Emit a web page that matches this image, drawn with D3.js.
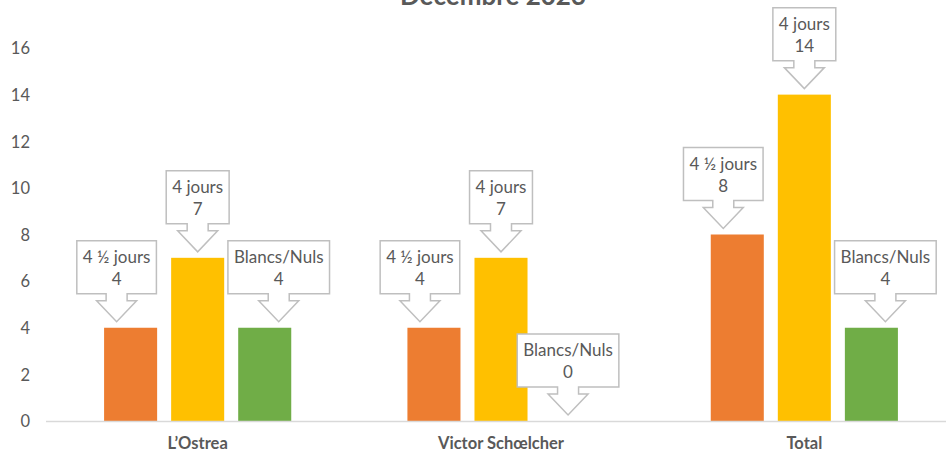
<!DOCTYPE html>
<html>
<head>
<meta charset="utf-8">
<script src="https://cdn.jsdelivr.net/npm/d3@7"></script>
<style>
  html, body { margin: 0; padding: 0; background: #fff; }
  svg { display: block; }
</style>
</head>
<body>
<svg id="chart" width="946" height="452"></svg>
<script>
// ---- data ----
const title = "Décembre 2023";
const categories = ["L’Ostrea", "Victor Schœlcher", "Total"];
const seriesNames = ["4 ½ jours", "4 jours", "Blancs/Nuls"];
const seriesColors = ["#ED7D31", "#FFC000", "#70AD47"];
const values45 = [4, 4, 8];
const values4 = [7, 7, 14];
const valuesBN = [4, 0, 4];
const yTicks = [0, 2, 4, 6, 8, 10, 12, 14, 16];

const seriesValues = [values45, values4, valuesBN];

// ---- layout ----
const W = 946, H = 452;
const plot = { left: 46, right: 956, top: 48, bottom: 421 };
const font = "Lato, 'Open Sans', sans-serif";
const textColor = "#595959";

const svg = d3.select("#chart");

const y = d3.scaleLinear().domain([0, 16]).range([plot.bottom, plot.top]);
const x0 = d3.scaleBand().domain(categories).range([plot.left, plot.right])
  .paddingInner(0.383).paddingOuter(0.1915);
const x1 = d3.scaleBand().domain(seriesNames).range([0, x0.bandwidth()])
  .paddingInner(0.209).paddingOuter(0);

// title
svg.append("text")
  .attr("x", 493).attr("y", 5)
  .attr("text-anchor", "middle")
  .attr("font-family", font).attr("font-weight", "bold")
  .attr("font-size", 26).attr("fill", textColor)
  .text(title);

// y axis labels
const yAxis = d3.axisLeft(y).tickValues(yTicks).tickSize(0).tickPadding(0);
const yg = svg.append("g").attr("transform", "translate(30,0)").call(yAxis);
yg.select(".domain").remove();
yg.selectAll("text")
  .attr("font-family", font).attr("font-size", 16.5).attr("fill", textColor)
  .attr("dy", "0.35em");

// bars
const rows = [];
categories.forEach((c, ci) => {
  seriesNames.forEach((s, si) => {
    rows.push({ cat: c, ci, series: s, si, value: seriesValues[si][ci] });
  });
});

svg.append("g").selectAll("rect").data(rows).join("rect")
  .attr("x", d => x0(d.cat) + x1(d.series))
  .attr("y", d => y(d.value))
  .attr("width", x1.bandwidth())
  .attr("height", d => y(0) - y(d.value))
  .attr("fill", d => seriesColors[d.si]);

// x axis line
const xAxis = d3.axisBottom(x0).tickSize(0).tickPadding(0);
const xg = svg.append("g").attr("transform", `translate(0,${plot.bottom})`).call(xAxis);
xg.select(".domain").attr("stroke", "#D9D9D9").attr("stroke-width", 1.3)
  .attr("d", `M${plot.left},0.5H${W}`);
xg.selectAll("text")
  .attr("font-family", font).attr("font-size", 16.5).attr("font-weight", "bold")
  .attr("fill", textColor).attr("y", 28).attr("dy", 0);

// callout data labels
const nudge = [-14, 0, 14]; // horizontal placement of callouts per series
const boxH = 53, stemLen = 7, headLen = 21, stemHalf = 10.5, headHalf = 20, gap = 6, padX = 6;

const labels = svg.append("g");
rows.forEach(d => {
  const g = labels.append("g");
  const bx = x0(d.cat) + x1(d.series) + x1.bandwidth() / 2;
  const cx = bx + (d.value > 0 ? nudge[d.si] : 0);
  const tipY = y(d.value) - gap;
  const bottom = tipY - stemLen - headLen;
  const top = bottom - boxH;

  const t1 = g.append("text").attr("x", cx).attr("y", top + 22)
    .attr("text-anchor", "middle").attr("font-family", font).attr("font-size", 17)
    .attr("fill", textColor).text(d.series);
  const t2 = g.append("text").attr("x", cx).attr("y", top + 44)
    .attr("text-anchor", "middle").attr("font-family", font).attr("font-size", 17)
    .attr("fill", textColor).text(d.value);
  const tw = Math.max(t1.node().getComputedTextLength(), t2.node().getComputedTextLength());
  const half = tw / 2 + padX;
  const p = d3.path();
  p.moveTo(cx - half, top);
  p.lineTo(cx + half, top);
  p.lineTo(cx + half, bottom);
  p.lineTo(cx + stemHalf, bottom);
  p.lineTo(cx + stemHalf, bottom + stemLen);
  p.lineTo(cx + headHalf, bottom + stemLen);
  p.lineTo(cx, tipY);
  p.lineTo(cx - headHalf, bottom + stemLen);
  p.lineTo(cx - stemHalf, bottom + stemLen);
  p.lineTo(cx - stemHalf, bottom);
  p.lineTo(cx - half, bottom);
  p.closePath();
  g.insert("path", "text").attr("d", p.toString())
    .attr("fill", "#fff").attr("stroke", "#BFBFBF").attr("stroke-width", 1.5);
});
</script>
</body>
</html>
